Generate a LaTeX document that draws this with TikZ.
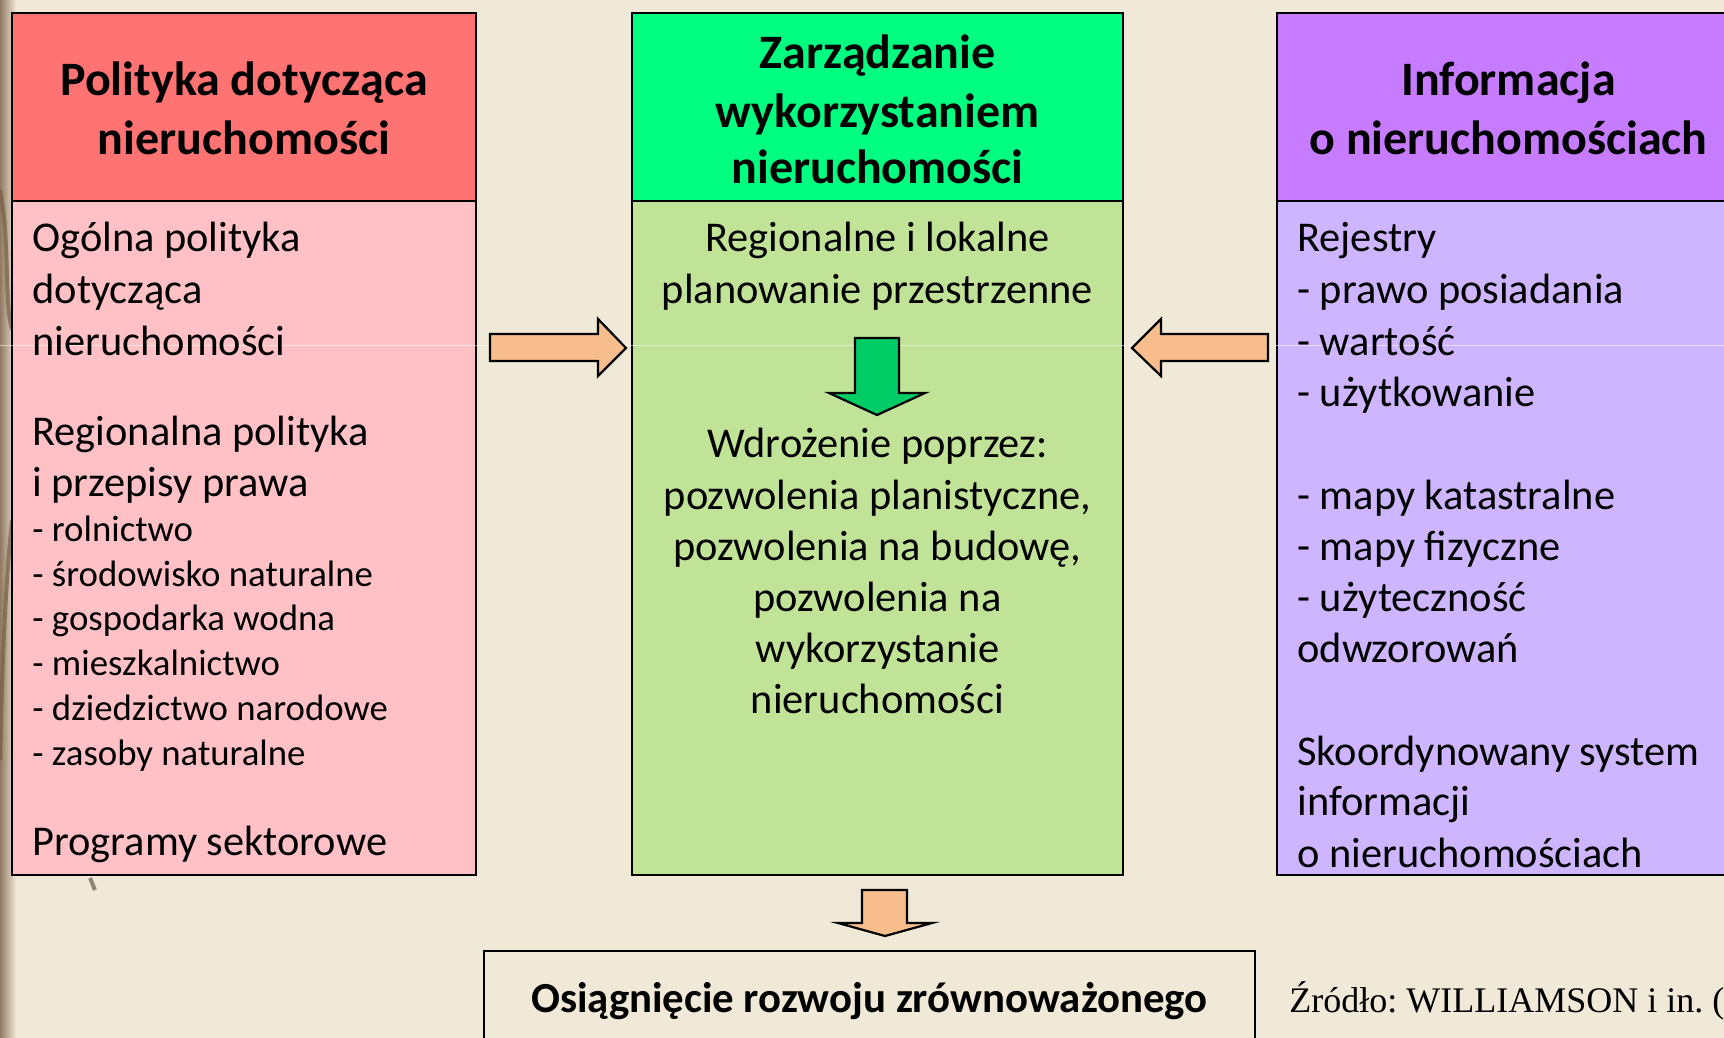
\documentclass[tikz,border=0pt]{standalone}
\usepackage{fontspec}
\setmainfont{Carlito}
\newfontfamily\srcfont{Liberation Serif}
\definecolor{bg}{RGB}{240,233,216}
\definecolor{edgebrown}{RGB}{120,95,70}
\definecolor{redH}{RGB}{255,115,115}
\definecolor{redB}{RGB}{255,193,197}
\definecolor{greenH}{RGB}{0,255,128}
\definecolor{greenB}{RGB}{193,227,151}
\definecolor{violetH}{RGB}{199,123,255}
\definecolor{violetB}{RGB}{205,182,255}
\definecolor{orangeA}{RGB}{248,189,140}
\definecolor{greenA}{RGB}{0,204,102}
\tikzset{
  body/.style={font=\fontsize{21.2pt}{25pt}\selectfont, inner sep=0pt, anchor=base west},
  bodyc/.style={body, anchor=base},
  smalltxt/.style={font=\fontsize{18.4pt}{22pt}\selectfont, inner sep=0pt, anchor=base west},
  headtxt/.style={font=\bfseries\fontsize{24pt}{29pt}\selectfont, inner sep=0pt, anchor=base},
  goaltxt/.style={font=\bfseries\fontsize{21.4pt}{26pt}\selectfont, inner sep=0pt, anchor=base},
  boxframe/.style={draw=black, line width=1pt, rectangle, inner sep=0pt},
  blockarrow/.style={draw=black, line width=1.1pt, line join=miter},
}
\begin{document}
\frenchspacing
\begin{tikzpicture}[x=0.5pt,y=-0.5pt]
\useasboundingbox (0,0) rectangle (1724,1038);
\fill[bg] (0,0) rectangle (1724,1038);
% left decorative edge
\shade[left color=edgebrown, right color=bg, opacity=0.8] (0,0) rectangle (16,1038);
\draw[edgebrown, line width=2pt, opacity=0.7] (0,190) .. controls (10,240) and (4,300) .. (12,330);
\draw[edgebrown, line width=2pt, opacity=0.7] (12,520) .. controls (4,600) and (2,680) .. (0,760);
\draw[edgebrown!70!black, line width=2pt, opacity=0.6] (90,878) .. controls (92,882) and (93,886) .. (95,890);

% ---------- boxes ----------
\node[boxframe, fill=redB, minimum width=232pt, minimum height=431pt] (leftbox) at (244,444) {};
\node[boxframe, fill=redH, minimum width=232pt, minimum height=94pt] (lefthead) at (244,107) {};
\node[boxframe, fill=greenB, minimum width=245.5pt, minimum height=431pt] (midbox) at (877.5,444) {};
\node[boxframe, fill=greenH, minimum width=245.5pt, minimum height=94pt] (midhead) at (877.5,107) {};
\node[boxframe, fill=violetB, minimum width=234pt, minimum height=431pt] (rightbox) at (1511,444) {};
\node[boxframe, fill=violetH, minimum width=234pt, minimum height=94pt] (righthead) at (1511,107) {};
\node[boxframe, minimum width=385.5pt, minimum height=54.5pt] (bottombox) at (869.5,1005.5) {};

% faint line across
\draw[white, line width=0.5pt, opacity=0.55] (0,345) -- (1724,345);

% ---------- headers ----------
\node[headtxt] (lh1) at (244,96) {Polityka dotycząca};
\node[headtxt] (lh2) at (244,154.5) {nieruchomości};
\node[headtxt] (mh1) at (877.5,69) {Zarządzanie};
\node[headtxt] (mh2) at (877.5,127) {wykorzystaniem};
\node[headtxt] (mh3) at (877.5,184) {nieruchomości};
\node[headtxt] (rh1) at (1508.5,96) {Informacja};
\node[headtxt] (rh2) at (1508.5,154.5) {o nieruchomościach};

% ---------- left body ----------
\node[body] (l1) at (32,251.5) {Ogólna polityka};
\node[body] (l2) at (32,303) {dotycząca};
\node[body] (l3) at (32,355) {nieruchomości};
\node[body] (l4) at (32,445) {Regionalna polityka};
\node[body] (l5) at (32,496) {i przepisy prawa};
\node[smalltxt] (l6) at (32,541) {- rolnictwo};
\node[smalltxt] (l7) at (32,586) {- środowisko naturalne};
\node[smalltxt] (l8) at (32,630) {- gospodarka wodna};
\node[smalltxt] (l9) at (32,675) {- mieszkalnictwo};
\node[smalltxt] (l10) at (32,720) {- dziedzictwo narodowe};
\node[smalltxt] (l11) at (32,765) {- zasoby naturalne};
\node[body] (l12) at (32,855) {Programy sektorowe};

% ---------- middle body ----------
\node[bodyc] (m1) at (877.5,251.5) {Regionalne i lokalne};
\node[bodyc] (m2) at (877.5,303) {planowanie przestrzenne};
\node[bodyc] (m3) at (877.5,457) {Wdrożenie poprzez:};
\node[bodyc] (m4) at (877.5,509) {pozwolenia planistyczne,};
\node[bodyc] (m5) at (877.5,560.5) {pozwolenia na budowę,};
\node[bodyc] (m6) at (877.5,611) {pozwolenia na};
\node[bodyc] (m7) at (877.5,662) {wykorzystanie};
\node[bodyc] (m8) at (877.5,713) {nieruchomości};

% ---------- right body ----------
\node[body] (r1) at (1297,251.5) {Rejestry};
\node[body] (r2) at (1297,303) {- prawo posiadania};
\node[body] (r3) at (1297,355) {- wartość};
\node[body] (r4) at (1297,406.5) {- użytkowanie};
\node[body] (r5) at (1297,509) {- mapy katastralne};
\node[body] (r6) at (1297,560.5) {- mapy fizyczne};
\node[body] (r7) at (1297,611) {- użyteczność};
\node[body] (r8) at (1297,662) {odwzorowań};
\node[body] (r9) at (1297,765) {Skoordynowany system};
\node[body] (r10) at (1297,815.5) {informacji};
\node[body] (r11) at (1297,867) {o nieruchomościach};

% ---------- bottom ----------
\node[goaltxt] (goal) at (869.5,1012) {Osiągnięcie rozwoju zrównoważonego};
\node[font=\srcfont\fontsize{18pt}{21pt}\selectfont, inner sep=0pt, anchor=base west] (src) at (1289,1012) {Źródło: WILLIAMSON i in. (};

% ---------- block arrows ----------
\draw[blockarrow, fill=orangeA] (490,334) -- (598,334) -- (598,319) -- (626,348) -- (598,376) -- (598,361) -- (490,361) -- cycle;
\draw[blockarrow, fill=orangeA] (1268,334) -- (1161,334) -- (1161,319) -- (1132,348) -- (1161,376) -- (1161,361) -- (1268,361) -- cycle;
\draw[blockarrow, fill=greenA] (855,338) -- (899,338) -- (899,393) -- (925,393) -- (877,415) -- (829,393) -- (855,393) -- cycle;
\draw[blockarrow, fill=orangeA] (862,890) -- (907,890) -- (907,923) -- (932,923) -- (885,936) -- (838,923) -- (862,923) -- cycle;
\end{tikzpicture}
\end{document}
